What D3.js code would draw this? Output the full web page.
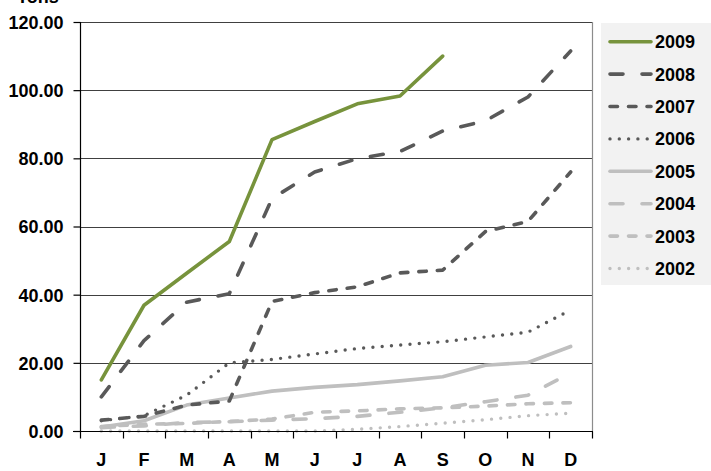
<!DOCTYPE html>
<html>
<head>
<meta charset="utf-8">
<script src="https://cdn.jsdelivr.net/npm/d3@7"></script>
<style>
  html, body { margin: 0; padding: 0; background: #fff; }
  svg { display: block; }
  text { font-family: "Liberation Sans", Arial, sans-serif; font-weight: bold; fill: #000; }
</style>
</head>
<body>
<svg id="chart" width="711" height="471"></svg>
<script>
// Monthly cumulative values, one array per year
const months = ["J", "F", "M", "A", "M", "J", "J", "A", "S", "O", "N", "D"];
const yTicks = [0, 20, 40, 60, 80, 100, 120];
const unitLabel = "Tons";

const v2009 = [15, 36.9, 46.3, 55.6, 85.5, 90.8, 96, 98.3, 110];
const v2008 = [10, 26.5, 37.8, 40.3, 68.2, 76, 79.9, 82, 88, 91, 98, 111.5];
const v2007 = [3.2, 4.3, 7.6, 8.8, 38, 40.6, 42.3, 46.4, 47.2, 58.5, 61.5, 76];
const v2006 = [3, 4.5, 10.5, 20, 21, 22.6, 24.2, 25.2, 26.2, 27.6, 29, 35.5];
const v2005 = [1.2, 3, 7.6, 9.7, 11.7, 12.8, 13.6, 14.7, 15.9, 19.3, 20.1, 24.8];
const v2004 = [1, 1.5, 2.5, 2.7, 3.2, 3.6, 4.3, 5.5, 6.8, 8.6, 10.5, 17];
const v2003 = [1.3, 2, 2.2, 2.8, 3.5, 5.5, 5.9, 6.5, 6.8, 7.3, 8, 8.3];
const v2002 = [0, 0, 0, 0, 0, 0, 0.5, 1.3, 2.3, 3.3, 4.5, 5.2];

const seriesNames = ["2009", "2008", "2007", "2006", "2005", "2004", "2003", "2002"];
const seriesValues = [v2009, v2008, v2007, v2006, v2005, v2004, v2003, v2002];

// Line appearance per year
const styles = {
  "2009": { color: "#77933C", dash: null,      width: 3.6 },
  "2008": { color: "#595959", dash: "13,19",   width: 3.6 },
  "2007": { color: "#595959", dash: "7.5,11",  width: 3.6 },
  "2006": { color: "#595959", dash: "0,9.3",   width: 3.4 },
  "2005": { color: "#BFBFBF", dash: null,      width: 3.6 },
  "2004": { color: "#BFBFBF", dash: "13,19",   width: 3.6 },
  "2003": { color: "#BFBFBF", dash: "7.5,11",  width: 3.6 },
  "2002": { color: "#BFBFBF", dash: "0,9.3",   width: 3.4 }
};

const svg = d3.select("#chart");
const plot = { left: 80, right: 592, top: 22, bottom: 431 };

const xBand = d3.scaleBand().domain(d3.range(months.length)).range([plot.left, plot.right]);
const xPt = i => xBand(i) + xBand.bandwidth() / 2;
const y = d3.scaleLinear().domain([0, 120]).range([plot.bottom, plot.top]);

// Horizontal gridlines
svg.append("g")
  .selectAll("line")
  .data(yTicks.filter(t => t > 0))
  .join("line")
  .attr("x1", plot.left).attr("x2", plot.right)
  .attr("y1", d => Math.round(y(d)) + 0.5).attr("y2", d => Math.round(y(d)) + 0.5)
  .attr("stroke", "#404040").attr("stroke-width", 1);

// Right border of the plot area
svg.append("line")
  .attr("x1", plot.right + 0.5).attr("x2", plot.right + 0.5)
  .attr("y1", plot.top).attr("y2", plot.bottom)
  .attr("stroke", "#8c8c8c").attr("stroke-width", 1.2);

// Series lines
const line = d3.line().x((d, i) => xPt(i)).y(d => y(d));
seriesNames.slice().reverse().forEach(name => {
  const vals = seriesValues[seriesNames.indexOf(name)];
  const s = styles[name];
  svg.append("path")
    .datum(vals)
    .attr("d", line)
    .attr("fill", "none")
    .attr("stroke", s.color)
    .attr("stroke-width", s.width)
    .attr("stroke-linecap", "round")
    .attr("stroke-linejoin", "round")
    .attr("stroke-dasharray", s.dash);
});

// Y axis
const yAxis = svg.append("g")
  .attr("transform", `translate(${plot.left + 0.5},0)`)
  .call(d3.axisLeft(y).tickValues(yTicks).tickFormat(d3.format(".2f")).tickSize(7).tickPadding(10));
yAxis.select(".domain").attr("stroke", "#000").attr("stroke-width", 1.2)
  .attr("d", `M0,${plot.top}V${plot.bottom}`);
yAxis.selectAll(".tick line").attr("stroke", "#000").attr("stroke-width", 1.2);
yAxis.selectAll(".tick text")
  .style("font-size", "18px").style("font-weight", "bold")
  .style("font-family", "'Liberation Sans', Arial, sans-serif")
  .attr("fill", "#000").attr("dy", "0.36em");

// X axis: labels centred in each month, ticks at month boundaries
const xAxis = svg.append("g")
  .attr("transform", `translate(0,${plot.bottom + 0.5})`)
  .call(d3.axisBottom(xBand).tickFormat(i => months[i]).tickSize(0).tickPadding(22));
xAxis.select(".domain").attr("stroke", "#000").attr("stroke-width", 1.2)
  .attr("d", `M${plot.left - 7},0H${plot.right + 1}`);
xAxis.selectAll(".tick text")
  .style("font-size", "18px").style("font-weight", "bold")
  .style("font-family", "'Liberation Sans', Arial, sans-serif")
  .attr("fill", "#000");
xAxis.append("g")
  .selectAll("line")
  .data(d3.range(months.length + 1))
  .join("line")
  .attr("x1", i => Math.round(i < months.length ? xBand(i) : plot.right) + 0.5)
  .attr("x2", i => Math.round(i < months.length ? xBand(i) : plot.right) + 0.5)
  .attr("y1", 0).attr("y2", 7)
  .attr("stroke", "#000").attr("stroke-width", 1.2);

// Unit label above the value axis
svg.append("text")
  .attr("x", 17).attr("y", 2.5)
  .style("font-size", "18px")
  .text(unitLabel);

// Legend
const legend = svg.append("g");
legend.append("rect")
  .attr("x", 601).attr("y", 23).attr("width", 112).attr("height", 262)
  .attr("fill", "#F2F2F2");
const rowY = i => 41.7 + i * 32.4;
seriesNames.forEach((name, i) => {
  const s = styles[name];
  legend.append("line")
    .attr("x1", 610).attr("x2", 651)
    .attr("y1", rowY(i)).attr("y2", rowY(i))
    .attr("stroke", s.color)
    .attr("stroke-width", s.width)
    .attr("stroke-linecap", "round")
    .attr("stroke-dasharray", s.dash);
  legend.append("text")
    .attr("x", 655).attr("y", rowY(i) + 6.5)
    .style("font-size", "18px")
    .text(name);
});
</script>
</body>
</html>
